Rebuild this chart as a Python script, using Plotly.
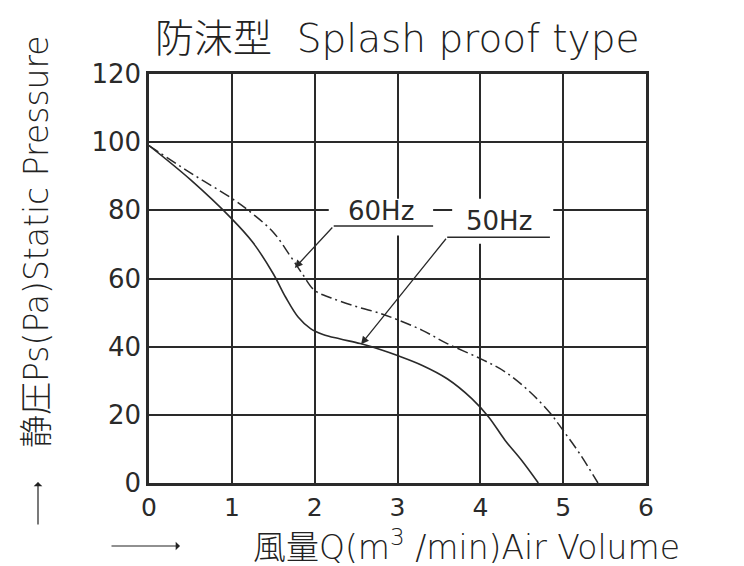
import plotly.graph_objects as go

# Data
flow_50 = [0, 0.5, 1.0, 1.25, 1.5, 1.65, 1.8, 1.95, 2.1, 2.3, 2.55, 2.8, 3.0, 3.3, 3.6, 3.9, 4.1, 4.3, 4.5, 4.7]
pres_50 = [99, 89, 77.5, 70.7, 61.4, 54.5, 48.7, 45.3, 43.6, 42.3, 40.9, 39.1, 37.4, 34.5, 30.6, 24.7, 19.4, 12.5, 6.6, 0]

flow_60 = [0, 0.5, 1.0, 1.25, 1.5, 1.7, 1.85, 2.0, 2.2, 2.5, 2.8, 3.0, 3.3, 3.6, 4.0, 4.3, 4.6, 4.85, 5.0, 5.2, 5.42]
pres_60 = [99, 91, 83.5, 79, 73.6, 66.8, 61.4, 56.5, 54.3, 51.8, 49.7, 47.9, 44.8, 40.9, 36.5, 32.6, 26.7, 20.3, 15.4, 8.6, 0]

x_ticks = [0, 1, 2, 3, 4, 5, 6]
y_ticks = [0, 20, 40, 60, 80, 100, 120]

title_text = "防沫型  Splash proof type"
x_title = "風量Q(m<sup>3</sup> /min)Air Volume"
y_title = "静圧Ps(Pa)Static Pressure"

INK = "#2a2a2a"
FONT = "DejaVu Sans, Noto Sans CJK JP"
LIGHT = "DejaVu Sans ExtraLight, DejaVu Sans, Noto Sans CJK JP"

W, H = 744, 566
OFF = 8  # page body offset
# plot box in page pixels: left 149, top 74, right 646, bottom 483
ML, MT = 149 - OFF, 74 - OFF
MR, MB = W - (646 - OFF), H - (483 - OFF)
PW, PH = W - ML - MR, H - MT - MB


def px(x):
    return (x - OFF - ML) / PW


def py(y):
    return 1 - (y - OFF - MT) / PH


fig = go.Figure()
fig.add_trace(go.Scatter(x=flow_50, y=pres_50, mode="lines", line_shape="spline",
                         line=dict(color=INK, width=1.6), name="50Hz", showlegend=False))
fig.add_trace(go.Scatter(x=flow_60, y=pres_60, mode="lines", line_shape="spline",
                         line=dict(color=INK, width=1.5, dash="11px,4px,2px,4px"),
                         name="60Hz", showlegend=False))

# white boxes behind labels (hide gridlines)
for x0, x1, y0, y1 in [(2.17, 3.43, 72.6, 83.4), (3.66, 4.88, 70.2, 83.4)]:
    fig.add_shape(type="rect", x0=x0, x1=x1, y0=y0, y1=y1, xref="x", yref="y",
                  fillcolor="white", line=dict(width=0), layer="between")

# underlines
fig.add_shape(type="line", x0=2.23, x1=3.43, y0=75.4, y1=75.4, line=dict(color=INK, width=1.5))
fig.add_shape(type="line", x0=3.60, x1=4.84, y0=72.1, y1=72.1, line=dict(color=INK, width=1.5))

# leader arrows
fig.add_annotation(x=1.76, y=63.1, ax=2.23, ay=75.4, xref="x", yref="y", axref="x", ayref="y",
                   text="", showarrow=True, arrowhead=2, arrowsize=1.2, arrowwidth=1.3, arrowcolor=INK)
fig.add_annotation(x=2.56, y=40.7, ax=3.60, ay=72.1, xref="x", yref="y", axref="x", ayref="y",
                   text="", showarrow=True, arrowhead=2, arrowsize=1.2, arrowwidth=1.3, arrowcolor=INK)

fig.add_annotation(x=2.80, y=79.8, xref="x", yref="y", text="60Hz", showarrow=False,
                   font=dict(family=FONT, size=26, color="#2a2a2a"))
fig.add_annotation(x=4.22, y=76.8, xref="x", yref="y", text="50Hz", showarrow=False,
                   font=dict(family=FONT, size=26, color="#2a2a2a"))

# title
fig.add_annotation(x=px(397), y=py(38), xref="paper", yref="paper", text=title_text, showarrow=False,
                   xanchor="center", yanchor="middle",
                   font=dict(family=LIGHT, size=39, color="#222", weight=200))

# x title and arrow
fig.add_annotation(x=px(466), y=py(545), xref="paper", yref="paper", text=x_title, showarrow=False,
                   xanchor="center", yanchor="middle",
                   font=dict(family=LIGHT, size=33, color="#222", weight=200))
fig.add_annotation(x=px(180), y=py(546), ax=-70, ay=0, xref="paper", yref="paper", text="",
                   showarrow=True, arrowhead=1, arrowsize=1.2, arrowwidth=1.2, arrowcolor="#222")

# y title and arrow
fig.add_annotation(x=px(36), y=py(242), xref="paper", yref="paper", text=y_title, showarrow=False,
                   xanchor="center", yanchor="middle", textangle=-90,
                   font=dict(family=LIGHT, size=33, color="#222", weight=200))
fig.add_annotation(x=px(38), y=py(482), ax=0, ay=44, xref="paper", yref="paper", text="",
                   showarrow=True, arrowhead=1, arrowsize=1.2, arrowwidth=1.2, arrowcolor="#222")

fig.update_layout(
    width=W, height=H,
    margin=dict(l=ML, r=MR, t=MT, b=MB),
    paper_bgcolor="white", plot_bgcolor="white",
    xaxis=dict(range=[0, 6], tickvals=x_ticks, ticktext=[str(v) for v in x_ticks],
               showgrid=True, gridcolor=INK, gridwidth=2, zeroline=False,
               showline=True, linecolor=INK, linewidth=2.5, mirror=True, ticks="",
               tickfont=dict(family=FONT, size=25, color="#2a2a2a")),
    yaxis=dict(range=[0, 120], tickvals=y_ticks, ticktext=[str(v) for v in y_ticks],
               showgrid=True, gridcolor=INK, gridwidth=2, zeroline=False,
               showline=True, linecolor=INK, linewidth=2.5, mirror=True, ticks="",
               tickfont=dict(family=FONT, size=26, color="#2a2a2a")),
)

fig.write_html("out.html")
